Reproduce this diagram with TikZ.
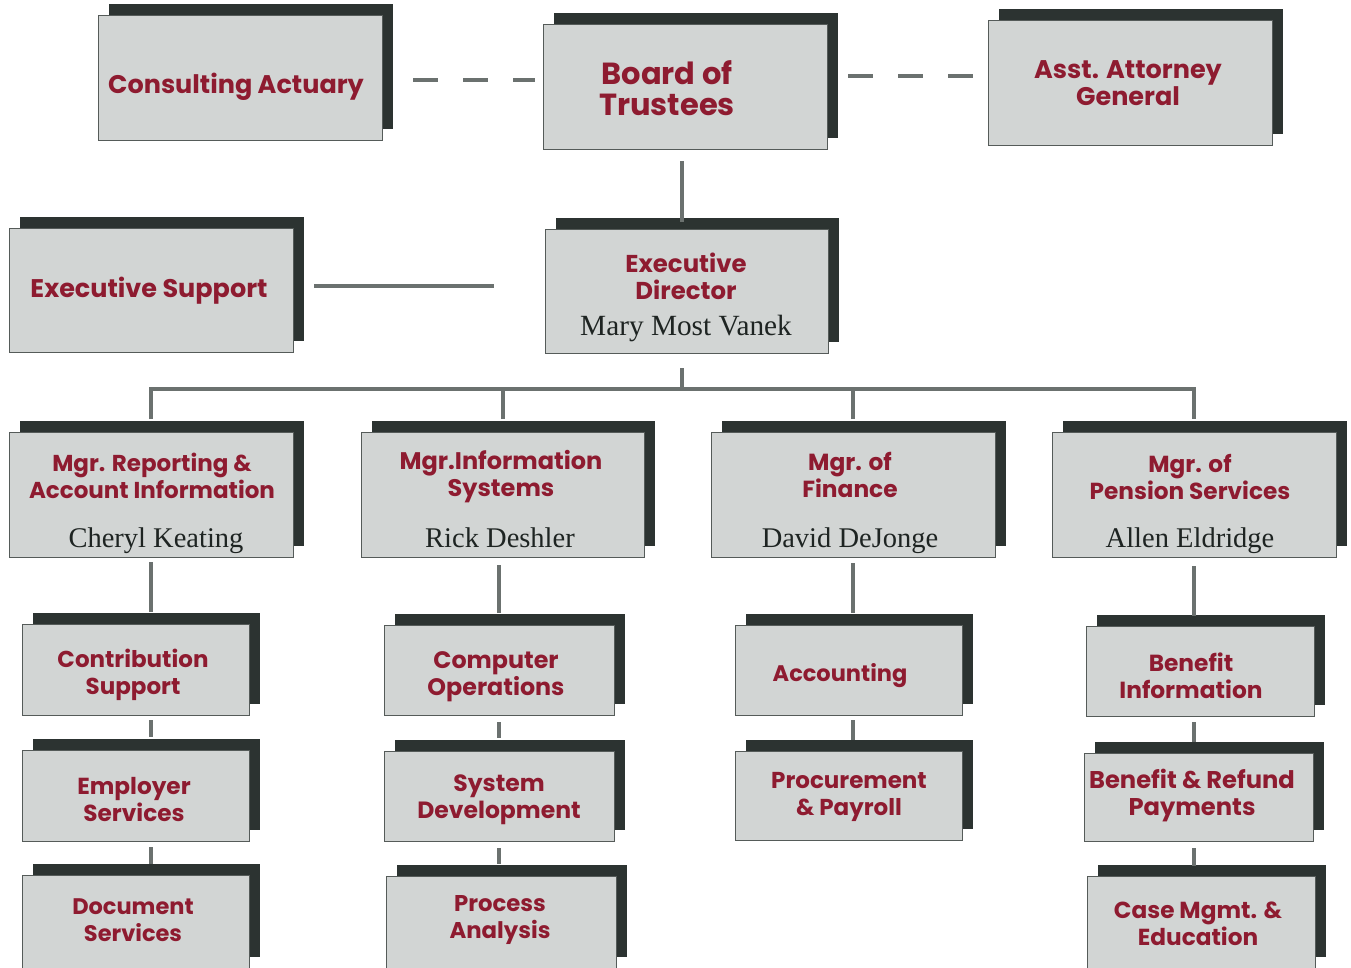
\documentclass[tikz,border=0pt]{standalone}
\usepackage{fontspec}
\usetikzlibrary{shadows,calc}
\newfontfamily\tfont{Poppins}
\newfontfamily\nfont{Liberation Serif}
\definecolor{boxc}{HTML}{D2D5D4}
\definecolor{shd}{HTML}{2C3331}
\definecolor{tred}{HTML}{8E1B30}
\definecolor{nmc}{HTML}{1E2422}
\definecolor{linec}{HTML}{6B716F}
\definecolor{edgec}{HTML}{555B59}
\newcommand\tsz[1]{\tfont\bfseries\fontsize{#1}{27}\selectfont}
\tikzset{
  obox/.style={draw=edgec, line width=0.8pt, fill=boxc, inner sep=0pt, outer sep=0pt,
    general shadow={shadow xshift=11pt, shadow yshift=11pt, fill=shd, draw=none}},
  ttl/.style={align=center, text=tred, inner sep=0pt, font=\tsz{23.5}},
  nme/.style={text=nmc, inner sep=0pt, anchor=base, font=\nfont\fontsize{28.5}{30}\selectfont},
  conn/.style={draw=linec, line width=4pt},
  dconn/.style={conn, dash pattern=on 25pt off 25pt},
}
\newcommand\bx[5]{%
  \node[obox, minimum width={#4-#2}, minimum height={#5-#3}] (#1) at ({(#2+#4)/2},{(#3+#5)/2}) {};}
\begin{document}
\begin{tikzpicture}[x=1pt,y=-1pt]
\fill[white] (0,0) rectangle (1351,967);
\useasboundingbox (0,0) rectangle (1351,967);
% boxes
\bx{ca}{98}{15}{382}{140}
\bx{bt}{543}{24}{827}{149}
\bx{aag}{988}{20}{1272}{145}
\bx{es}{9}{228}{293}{352}
\bx{ed}{545}{229}{828}{353}
\bx{m1}{9}{432}{293}{557}
\bx{m2}{361}{432}{644}{557}
\bx{m3}{711}{432}{995}{557}
\bx{m4}{1052}{432}{1336}{557}
\bx{c1}{22}{624}{249}{715}
\bx{c2}{22}{750}{249}{841}
\bx{c3}{22}{875}{249}{968}
\bx{d1}{384}{625}{614}{715}
\bx{d2}{384}{751}{614}{841}
\bx{d3}{386}{876}{616}{968}
\bx{f1}{735}{625}{962}{715}
\bx{f2}{735}{751}{962}{840}
\bx{p1}{1086}{626}{1314}{716}
\bx{p2}{1084}{753}{1313}{841}
\bx{p3}{1087}{876}{1315}{968}
% titles
\node[ttl, font=\tsz{25.5}] (ca-t) at (236,86.5) {Consulting Actuary};
\node[ttl, font=\tfont\bfseries\fontsize{30.5}{31}\selectfont] (bt-t) at (667,88) {Board of\\Trustees};
\node[ttl, font=\tsz{25.5}] (aag-t) at (1128,83) {Asst. Attorney\\General};
\node[ttl, font=\tsz{25.5}] (es-t) at (149,290.5) {Executive Support};
\node[ttl, font=\tsz{24.4}] (ed-t) at (686,276) {Executive\\Director};
\node[nme, font=\nfont\fontsize{29.3}{30}\selectfont] (ed-n) at (686,335) {Mary Most Vanek};
\node[ttl, font=\tsz{23}] (m1-t) at (152,475.5) {Mgr. Reporting \&\\Account Information};
\node[nme] (m1-n) at (156,547) {Cheryl Keating};
\node[ttl, font=\tsz{24}] (m2-t) at (501,477) {Mgr.Information\\Systems};
\node[nme] (m2-n) at (500,547) {Rick Deshler};
\node[ttl, font=\tsz{23.3}] (m3-t) at (850,474.5) {Mgr. of\\Finance};
\node[nme] (m3-n) at (850,547) {David DeJonge};
\node[ttl, font=\tsz{23.2}] (m4-t) at (1190,477) {Mgr. of\\Pension Services};
\node[nme] (m4-n) at (1190,547) {Allen Eldridge};
\node[ttl, font=\tsz{23}] (c1-t) at (133,675) {Contribution\\Support};
\node[ttl, font=\tsz{23.2}] (c2-t) at (134,799) {Employer\\Services};
\node[ttl, font=\tsz{22.5}] (c3-t) at (133,920.5) {Document\\Services};
\node[ttl, font=\tsz{23.8}] (d1-t) at (496,677) {Computer\\Operations};
\node[ttl, font=\tsz{23.5}] (d2-t) at (499,799.5) {System\\Development};
\node[ttl, font=\tsz{22.8}] (d3-t) at (500,920.5) {Process\\Analysis};
\node[ttl, font=\tsz{22.5}] (f1-t) at (840,675.5) {Accounting};
\node[ttl, font=\tsz{23}] (f2-t) at (849,796.5) {Procurement\\\& Payroll};
\node[ttl, font=\tsz{23.3}] (p1-t) at (1191,675.5) {Benefit\\Information};
\node[ttl, font=\tsz{24.2}] (p2-t) at (1192,795.5) {Benefit \& Refund\\Payments};
\node[ttl, font=\tsz{23.2}] (p3-t) at (1198,923.5) {Case Mgmt. \&\\Education};
% connectors
\draw[dconn, shorten <=31pt, shorten >=8pt] (ca.east |- 0,80) -- (bt.west |- 0,80);
\draw[dconn, shorten <=21pt, shorten >=11pt] (bt.east |- 0,76) -- (aag.west |- 0,76);
\draw[conn, shorten <=12pt, shorten >=7pt] (bt.south -| 682,0) -- (ed.north -| 682,0);
\draw[conn, shorten <=21pt, shorten >=51pt] (es.east |- 0,286) -- (ed.west |- 0,286);
\coordinate (bus) at (682,389);
\draw[conn, shorten <=15pt] (ed.south -| bus) -- (bus);
\draw[conn] ($(m1.north)+(0,-13)$) |- (bus) -| ($(m4.north)+(0,-13)$);
\draw[conn] ($(m2.north)+(0,-13)$) -- (m2.north |- bus);
\draw[conn] ($(m3.north)+(0,-13)$) -- (m3.north |- bus);
% columns
\draw[conn, shorten <=5pt, shorten >=12pt] (m1.south) -- (m1.south |- c1.north);
\draw[conn, shorten <=5pt, shorten >=13pt] (m1.south |- c1.south) -- (m1.south |- c2.north);
\draw[conn, shorten <=6pt, shorten >=11pt] (m1.south |- c2.south) -- (m1.south |- c3.north);
\draw[conn, shorten <=8pt, shorten >=12pt] (d1.north |- m2.south) -- (d1.north);
\draw[conn, shorten <=7pt, shorten >=13pt] (d1.south) -- (d2.north);
\draw[conn, shorten <=7pt, shorten >=12pt] (d2.south) -- (d2.south |- d3.north);
\draw[conn, shorten <=6pt, shorten >=12pt] (m3.south) -- (m3.south |- f1.north);
\draw[conn, shorten <=5pt, shorten >=11pt] (m3.south |- f1.south) -- (m3.south |- f2.north);
\draw[conn, shorten <=9pt, shorten >=10pt] (m4.south) -- (m4.south |- p1.north);
\draw[conn, shorten <=6pt, shorten >=11pt] (m4.south |- p1.south) -- (m4.south |- p2.north);
\draw[conn, shorten <=7pt, shorten >=10pt] (m4.south |- p2.south) -- (m4.south |- p3.north);
\end{tikzpicture}
\end{document}
